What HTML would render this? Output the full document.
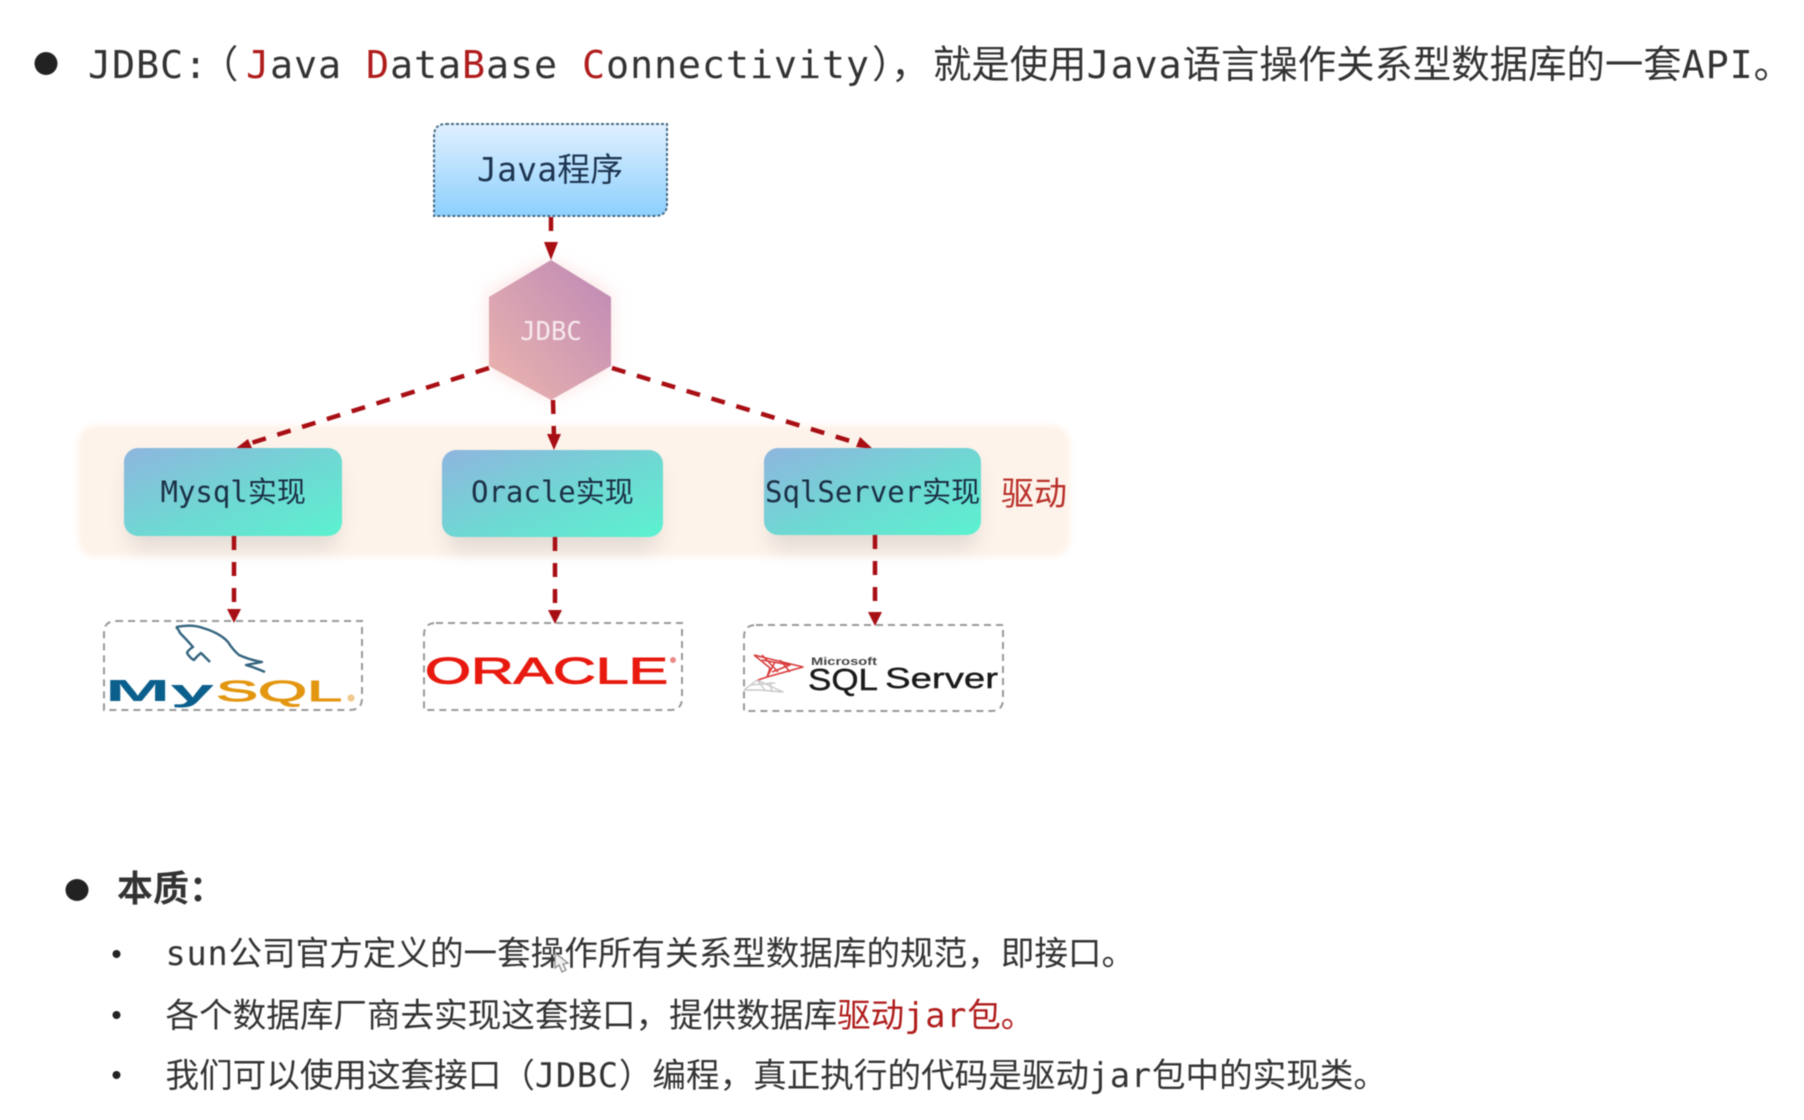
<!DOCTYPE html>
<html lang="zh">
<head>
<meta charset="utf-8">
<title>JDBC</title>
<style>
html,body{margin:0;padding:0;background:#fff;width:1804px;height:1120px;overflow:hidden}
svg{display:block;filter:blur(.65px)}
.t{font-family:"DejaVu Sans Mono","Noto Sans CJK SC",sans-serif;fill:#333}
.l1{font-size:38.4px}
.l1 .la{letter-spacing:.88px}
.l2{font-size:33.6px}
.l2 .la{letter-spacing:.77px}
.r{fill:#b01c1c}
.box{font-size:29px;fill:#1a2f44}
.box .la{letter-spacing:0}
.arrow{stroke:#a80f14;stroke-width:4.5;stroke-dasharray:14 12;fill:none}
.logo{font-family:"Liberation Sans",sans-serif;font-weight:700}
</style>
</head>
<body>
<svg width="1804" height="1120" viewBox="0 0 1804 1120" xmlns="http://www.w3.org/2000/svg">
<defs>
<linearGradient id="g1" x1="0" y1="0" x2="0" y2="1"><stop offset="0" stop-color="#e0f0ff"/><stop offset="1" stop-color="#8dd0fe"/></linearGradient>
<linearGradient id="g2" x1="1" y1="0" x2="0" y2="1"><stop offset="0" stop-color="#bd88b6"/><stop offset="1" stop-color="#edb6ae"/></linearGradient>
<linearGradient id="g3" x1="0" y1="0" x2="1" y2="1"><stop offset="0" stop-color="#8fb5df"/><stop offset=".55" stop-color="#6ed9d3"/><stop offset="1" stop-color="#5bf2d0"/></linearGradient>
<filter id="b8" x="-30%" y="-50%" width="160%" height="200%"><feGaussianBlur stdDeviation="10"/></filter>
<filter id="b3" x="-10%" y="-10%" width="120%" height="120%"><feGaussianBlur stdDeviation="3"/></filter>
<filter id="b10" x="-50%" y="-50%" width="200%" height="200%"><feGaussianBlur stdDeviation="9"/></filter>
</defs>

<!-- line 1 -->
<circle cx="46" cy="63.5" r="11.5" fill="#222"/>
<text class="t l1" x="88" y="78" xml:space="preserve"><tspan class="la">JDBC:</tspan></text>
<text class="t l1" x="200" y="78">（</text>
<text class="t l1" x="246" y="78" xml:space="preserve"><tspan class="la"><tspan class="r">J</tspan>ava <tspan class="r">D</tspan>ata<tspan class="r">B</tspan>ase <tspan class="r">C</tspan>onnectivity</tspan></text>
<text class="t l1" x="872" y="78">）</text>
<text class="t l1" x="891" y="78">，</text>
<text class="t l1" x="933" y="78">就是使用<tspan class="la">Java</tspan>语言操作关系型数据库的一套<tspan class="la">API</tspan>。</text>

<!-- band -->
<rect x="78" y="425" width="992" height="132" rx="18" fill="#fef3ea" filter="url(#b3)"/>

<!-- Java box -->
<path d="M446 124H667V204Q667 216 655 216H434V136Q434 124 446 124Z" fill="url(#g1)" stroke="#456a85" stroke-width="2" stroke-dasharray="3 2"/>
<text class="t" x="477" y="181" style="font-size:33px;fill:#1d3550"><tspan style="letter-spacing:.2px">Java</tspan>程序</text>

<!-- hexagon -->
<polygon points="551,261 610,293 610,367 551,398 489,367 489,293" fill="#f6c4c0" opacity=".5" filter="url(#b10)"/>
<polygon points="551,260 611,297 611,366 551,400 489,366 489,297" fill="url(#g2)"/>
<text class="t" x="551" y="340" text-anchor="middle" style="font-size:25.5px;fill:#f7e9ee">JDBC</text>

<!-- shadows for driver boxes -->
<rect x="128" y="462" width="210" height="86" rx="14" fill="#a8a6a8" opacity=".32" filter="url(#b8)"/>
<rect x="447" y="464" width="212" height="86" rx="14" fill="#a8a6a8" opacity=".32" filter="url(#b8)"/>
<rect x="769" y="462" width="208" height="86" rx="14" fill="#a8a6a8" opacity=".32" filter="url(#b8)"/>

<!-- arrows -->
<g class="arrow">
<line x1="551" y1="217" x2="551" y2="246"/>
<line x1="489" y1="368" x2="248" y2="444"/>
<line x1="612" y1="368" x2="860" y2="444"/>
<line x1="553" y1="400" x2="554" y2="438"/>
<line x1="234" y1="536" x2="234" y2="610"/>
<line x1="555" y1="537" x2="555" y2="611"/>
<line x1="875" y1="535" x2="875" y2="612"/>
</g>
<g fill="#a80f14">
<polygon points="551,260 544,242 558,242"/>
<polygon points="235,449 248,439 252,448"/>
<polygon points="873,449 856,447 860,437"/>
<polygon points="554,450 547,434 561,434"/>
<polygon points="234,623 227,609 241,609"/>
<polygon points="555,624 548,610 562,610"/>
<polygon points="875,626 868,612 882,612"/>
</g>

<!-- driver boxes -->
<rect x="124" y="448" width="218" height="88" rx="14" fill="url(#g3)"/>
<text class="t box" x="160.5" y="502"><tspan class="la">Mysql</tspan>实现</text>
<rect x="442" y="450" width="221" height="87" rx="14" fill="url(#g3)"/>
<text class="t box" x="471" y="502"><tspan class="la">Oracle</tspan>实现</text>
<rect x="764" y="448" width="217" height="87" rx="14" fill="url(#g3)"/>
<text class="t box" x="765" y="502"><tspan class="la">SqlServer</tspan>实现</text>
<text class="t" x="1001" y="505" style="font-size:33px;fill:#b9302a">驱动</text>

<!-- logo boxes -->
<g fill="none" stroke="#999" stroke-width="2" stroke-dasharray="7 5">
<path d="M116 621H362V698Q362 710 350 710H104V633Q104 621 116 621Z"/>
<path d="M436 623H682V698Q682 710 670 710H424V635Q424 623 436 623Z"/>
<path d="M756 625H1003V699Q1003 711 991 711H744V637Q744 625 756 625Z"/>
</g>

<!-- MySQL logo -->
<path d="M176 627Q192 624 203 628Q220 633 228 642Q233 650 239 655Q250 660 262 662L246 665Q256 668 265 672M176 627Q179 630 180 633Q187 640 193 647Q188 650 187 653Q190 658 194 660Q197 656 201 653Q205 657 210 662" fill="none" stroke="#33647f" stroke-width="2.4" stroke-linejoin="round"/>
<text class="logo" x="105" y="701" font-size="31" fill="#0a5f8c" textLength="109" lengthAdjust="spacingAndGlyphs">My</text>
<text x="216" y="701" font-family="Liberation Sans,sans-serif" font-size="29" fill="#e3960f" stroke="#e3960f" stroke-width=".9" textLength="126" lengthAdjust="spacingAndGlyphs">SQL</text>
<circle cx="351" cy="698" r="3.6" fill="#f0c88c"/>

<!-- Oracle logo -->
<text x="425" y="683.5" font-family="Liberation Sans,sans-serif" font-size="37" fill="#e8190f" stroke="#e8190f" stroke-width="1" textLength="243" lengthAdjust="spacingAndGlyphs">ORACLE</text>
<circle cx="673" cy="660" r="3" fill="#e88a86"/>

<!-- SQL Server logo -->
<g fill="none" stroke-linejoin="round">
<path d="M754 655L803 667L767 677L775 662M762 660L790 665L772 672M754 655L770 668L767 677M767 677L758 680M762 655L778 672M780 660L790 672" stroke="#d9393a" stroke-width="1.5"/>
<path d="M744 690L757 680L783 692L760 690L744 690M757 680L765 690M770 682L772 692M750 685L775 683" stroke="#c8c8c8" stroke-width="1.4"/>
</g>
<text class="logo" x="811" y="665" font-size="11" fill="#444" textLength="66" lengthAdjust="spacingAndGlyphs">Microsoft</text>
<text x="808" y="690" font-family="Liberation Sans,sans-serif" font-size="31" fill="#1a1a1a" stroke="#1a1a1a" stroke-width=".4" textLength="70" lengthAdjust="spacingAndGlyphs">SQL</text>
<text x="885" y="688" font-family="Liberation Sans,sans-serif" font-size="29" fill="#1a1a1a" stroke="#1a1a1a" stroke-width=".4" textLength="113" lengthAdjust="spacingAndGlyphs">Server</text>

<!-- essence -->
<ellipse cx="77" cy="890" rx="11.5" ry="11" fill="#222"/>
<text class="t" x="117" y="901" style="font-size:36px;font-weight:700;fill:#333;font-family:'Noto Sans CJK SC',sans-serif">本质：</text>

<circle cx="116.5" cy="954" r="4" fill="#222"/>
<circle cx="116.5" cy="1015" r="4" fill="#222"/>
<circle cx="116.5" cy="1075" r="4" fill="#222"/>

<text class="t l2" x="165.5" y="965"><tspan class="la">sun</tspan>公司官方定义的一套操作所有关系型数据库的规范，即接口。</text>
<text class="t l2" x="165.5" y="1027">各个数据库厂商去实现这套接口，提供数据库<tspan class="r">驱动<tspan class="la">jar</tspan>包。</tspan></text>
<text class="t l2" x="165.5" y="1087">我们可以使用这套接口（<tspan class="la">JDBC</tspan>）编程，真正执行的代码是驱动<tspan class="la">jar</tspan>包中的实现类。</text>

<!-- cursor -->
<path d="M555 953L555 968L559 965L562 972L566 970L563 964L568 963Z" fill="#f2f2f2" stroke="#888" stroke-width="1.2"/>
</svg>
</body>
</html>
